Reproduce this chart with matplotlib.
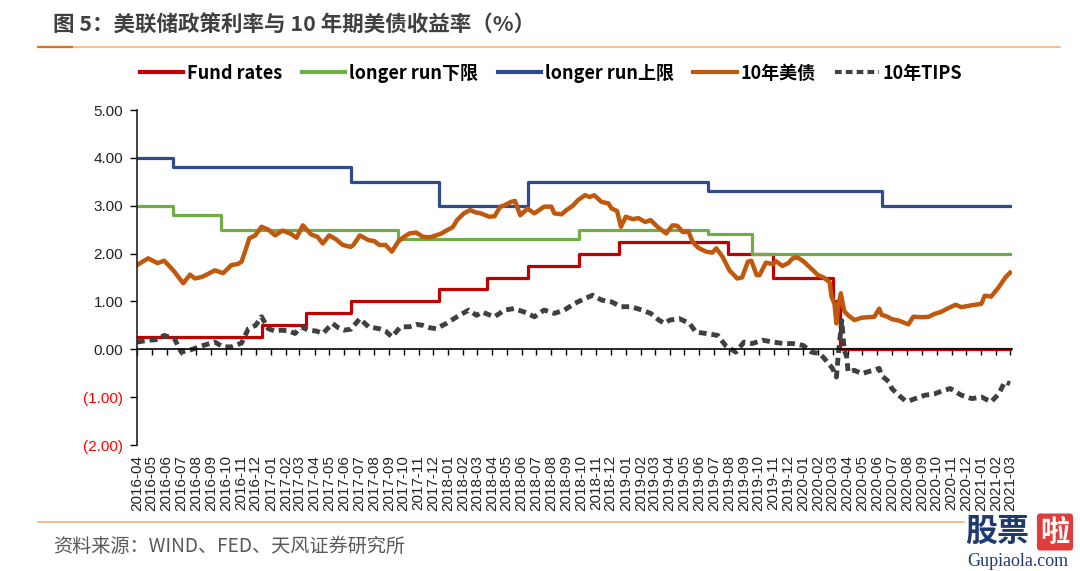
import pandas as pd
import matplotlib
matplotlib.use("Agg")
import matplotlib.pyplot as plt
import matplotlib.dates as mdates
from matplotlib.lines import Line2D

plt.rcParams['font.family'] = ['Liberation Sans', 'Noto Sans CJK SC']

# policy rate steps (change dates, level)
fund_dates = ["2016-04-01", "2016-12-14", "2017-03-15", "2017-06-14", "2017-12-13",
              "2018-03-21", "2018-06-13", "2018-09-26", "2018-12-19", "2019-07-31",
              "2019-10-30", "2020-03-03", "2020-03-16", "2021-03-01"]
fund_vals = [0.25, 0.50, 0.75, 1.00, 1.25, 1.50, 1.75, 2.00, 2.25, 2.00, 1.50, 1.00, 0.00, 0.00]

low_dates = ["2016-04-01", "2016-06-15", "2016-09-21", "2017-09-20", "2018-09-26",
             "2019-06-19", "2019-09-18", "2021-03-01"]
low_vals = [3.0, 2.8, 2.5, 2.3, 2.5, 2.4, 2.0, 2.0]

up_dates = ["2016-04-01", "2016-06-15", "2017-06-14", "2017-12-13", "2018-06-13",
            "2019-06-19", "2020-06-10", "2021-03-01"]
up_vals = [4.0, 3.8, 3.5, 3.0, 3.5, 3.3, 3.0, 3.0]

# 10y treasury yield
ust_dates = ["2016-04-01", "2016-04-24", "2016-05-13", "2016-05-27", "2016-06-10", "2016-06-17",
             "2016-06-28", "2016-07-05", "2016-07-19", "2016-07-29", "2016-08-12", "2016-08-26",
             "2016-09-08", "2016-09-25", "2016-10-12", "2016-10-25", "2016-11-02", "2016-11-09",
             "2016-11-18", "2016-11-30", "2016-12-13", "2016-12-27", "2017-01-10", "2017-01-25",
             "2017-02-10", "2017-02-23", "2017-03-08", "2017-03-25", "2017-04-07", "2017-04-18",
             "2017-05-01", "2017-05-15", "2017-05-29", "2017-06-14", "2017-06-20", "2017-07-03",
             "2017-07-21", "2017-08-02", "2017-08-12", "2017-08-25", "2017-09-07", "2017-09-20",
             "2017-09-29", "2017-10-13", "2017-10-27", "2017-11-10", "2017-11-24", "2017-12-07",
             "2017-12-18", "2017-12-28", "2018-01-10", "2018-01-19", "2018-02-02", "2018-02-15",
             "2018-02-26", "2018-03-09", "2018-03-26", "2018-04-06", "2018-04-18", "2018-04-25",
             "2018-05-10", "2018-05-18", "2018-05-29", "2018-06-13", "2018-06-27", "2018-07-17",
             "2018-08-01", "2018-08-07", "2018-08-22", "2018-09-01", "2018-09-14", "2018-09-25",
             "2018-10-09", "2018-10-19", "2018-10-28", "2018-11-12", "2018-11-26", "2018-12-03",
             "2018-12-14", "2018-12-22", "2019-01-01", "2019-01-15", "2019-01-27", "2019-02-10",
             "2019-02-21", "2019-03-07", "2019-03-25", "2019-04-07", "2019-04-17", "2019-04-28",
             "2019-05-10", "2019-05-18", "2019-05-30", "2019-06-15", "2019-06-28", "2019-07-06",
             "2019-07-19", "2019-08-02", "2019-08-18", "2019-08-28", "2019-09-09", "2019-09-16",
             "2019-09-27", "2019-10-03", "2019-10-16", "2019-10-30", "2019-11-06", "2019-11-19",
             "2019-12-01", "2019-12-10", "2019-12-20", "2020-01-01", "2020-01-21", "2020-01-31",
             "2020-02-12", "2020-02-24", "2020-02-28", "2020-03-05", "2020-03-09", "2020-03-12",
             "2020-03-18", "2020-03-25", "2020-04-02", "2020-04-15", "2020-04-30", "2020-05-12",
             "2020-05-26", "2020-06-05", "2020-06-10", "2020-06-22", "2020-07-01", "2020-07-15",
             "2020-08-04", "2020-08-14", "2020-09-01", "2020-09-15", "2020-09-27", "2020-10-10",
             "2020-10-25", "2020-11-09", "2020-11-21", "2020-12-12", "2020-12-25", "2021-01-01",
             "2021-01-08", "2021-01-21", "2021-02-06", "2021-02-20", "2021-02-27", "2021-03-01"]
ust_vals = [1.76, 1.90, 1.80, 1.85, 1.70, 1.62,
            1.47, 1.38, 1.56, 1.48, 1.51, 1.58,
            1.65, 1.59, 1.76, 1.78, 1.83, 2.04,
            2.32, 2.38, 2.56, 2.50, 2.38, 2.48,
            2.42, 2.33, 2.59, 2.40, 2.35, 2.21,
            2.38, 2.30, 2.18, 2.14, 2.18, 2.38,
            2.28, 2.26, 2.18, 2.18, 2.04, 2.25,
            2.33, 2.42, 2.44, 2.35, 2.34, 2.38,
            2.42, 2.48, 2.55, 2.70, 2.84, 2.91,
            2.86, 2.84, 2.77, 2.78, 2.98, 3.00,
            3.08, 3.10, 2.80, 2.94, 2.84, 2.98,
            2.98, 2.84, 2.82, 2.91, 3.00, 3.12,
            3.22, 3.18, 3.22, 3.08, 3.05, 2.94,
            2.89, 2.56, 2.77, 2.72, 2.74, 2.66,
            2.70, 2.56, 2.42, 2.59, 2.58, 2.45,
            2.46, 2.25, 2.12, 2.04, 2.02, 2.11,
            1.93, 1.65, 1.48, 1.50, 1.83, 1.85,
            1.55, 1.55, 1.81, 1.78, 1.84, 1.74,
            1.80, 1.90, 1.92, 1.84, 1.65, 1.55,
            1.50, 1.40, 1.10, 0.95, 0.54, 0.85,
            1.17, 0.80, 0.71, 0.61, 0.66, 0.67,
            0.68, 0.85, 0.72, 0.68, 0.63, 0.60,
            0.52, 0.68, 0.67, 0.68, 0.74, 0.78,
            0.86, 0.93, 0.88, 0.92, 0.94, 0.95,
            1.12, 1.10, 1.30, 1.51, 1.58, 1.60]

# 10y TIPS real yield
tips_dates = ["2016-04-01", "2016-04-24", "2016-05-10", "2016-05-27", "2016-06-17", "2016-07-01",
              "2016-07-21", "2016-08-15", "2016-09-08", "2016-09-25", "2016-10-12", "2016-11-02",
              "2016-11-16", "2016-12-01", "2016-12-13", "2016-12-27", "2017-01-10", "2017-01-24",
              "2017-02-08", "2017-02-20", "2017-03-04", "2017-03-20", "2017-04-05", "2017-04-18",
              "2017-05-08", "2017-05-20", "2017-06-01", "2017-06-15", "2017-07-03", "2017-07-21",
              "2017-08-12", "2017-08-25", "2017-09-07", "2017-09-25", "2017-10-13", "2017-10-28",
              "2017-11-10", "2017-11-24", "2017-12-07", "2017-12-28", "2018-01-19", "2018-02-12",
              "2018-02-28", "2018-03-12", "2018-03-26", "2018-04-06", "2018-04-27", "2018-05-16",
              "2018-06-06", "2018-06-27", "2018-07-17", "2018-08-07", "2018-08-28", "2018-09-18",
              "2018-10-09", "2018-10-25", "2018-11-12", "2018-12-03", "2018-12-22", "2019-01-12",
              "2019-02-03", "2019-02-21", "2019-03-10", "2019-03-22", "2019-04-01", "2019-04-21",
              "2019-05-12", "2019-05-25", "2019-06-15", "2019-07-09", "2019-07-25", "2019-08-15",
              "2019-09-01", "2019-09-18", "2019-10-09", "2019-11-01", "2019-11-21", "2019-12-10",
              "2020-01-01", "2020-01-18", "2020-02-04", "2020-02-13", "2020-02-22", "2020-03-01",
              "2020-03-09", "2020-03-13", "2020-03-18", "2020-03-20", "2020-03-25", "2020-03-30",
              "2020-04-02", "2020-04-15", "2020-04-30", "2020-05-13", "2020-06-05", "2020-06-10",
              "2020-06-25", "2020-07-01", "2020-07-14", "2020-07-28", "2020-08-05", "2020-08-18",
              "2020-09-07", "2020-09-27", "2020-10-15", "2020-10-29", "2020-11-21", "2020-12-12",
              "2021-01-02", "2021-01-21", "2021-02-06", "2021-02-18", "2021-03-01"]
tips_vals = [0.15, 0.19, 0.20, 0.29, 0.22, -0.06,
             -0.01, 0.08, 0.15, 0.05, 0.05, 0.13,
             0.43, 0.50, 0.68, 0.43, 0.38, 0.40,
             0.38, 0.33, 0.47, 0.40, 0.38, 0.33,
             0.54, 0.45, 0.40, 0.42, 0.64, 0.47,
             0.43, 0.38, 0.26, 0.47, 0.47, 0.52,
             0.50, 0.45, 0.43, 0.54, 0.68, 0.82,
             0.71, 0.78, 0.72, 0.68, 0.82, 0.85,
             0.78, 0.68, 0.82, 0.75, 0.82, 0.96,
             1.06, 1.13, 1.03, 0.99, 0.89, 0.89,
             0.82, 0.75, 0.61, 0.54, 0.61, 0.64,
             0.54, 0.36, 0.33, 0.29, 0.08, -0.06,
             0.15, 0.12, 0.19, 0.15, 0.12, 0.12,
             0.08, -0.06, -0.09, -0.19, -0.30, -0.40,
             -0.58, -0.09, 0.40, 0.60, -0.02, -0.15,
             -0.47, -0.44, -0.51, -0.47, -0.40, -0.55,
             -0.68, -0.82, -0.95, -1.07, -1.08, -1.03,
             -0.96, -0.93, -0.86, -0.82, -0.96, -1.03,
             -1.00, -1.10, -0.93, -0.68, -0.72]

labels = ["Fund rates", "longer run下限", "longer run上限", "10年美债", "10年TIPS"]
colors = ["#C00000", "#70AD47", "#2F4B8C", "#C0590E", "#404040"]

W, H = 1080, 571
fig = plt.figure(figsize=(W / 100, H / 100), dpi=100)
ax = fig.add_axes([137 / W, 1 - 445 / H, (1012 - 137) / W, (445 - 110) / H])

ax.plot(pd.to_datetime(fund_dates), fund_vals, drawstyle="steps-post", color=colors[0], lw=2.3)
ax.plot(pd.to_datetime(low_dates), low_vals, drawstyle="steps-post", color=colors[1], lw=2.3)
ax.plot(pd.to_datetime(up_dates), up_vals, drawstyle="steps-post", color=colors[2], lw=2.3)
ax.plot(pd.to_datetime(ust_dates), ust_vals, color=colors[3], lw=3.2, solid_joinstyle="round")
ax.plot(pd.to_datetime(tips_dates), tips_vals, color=colors[4], lw=3.5, dashes=(1.6, 1.0))

ax.set_xlim(pd.Timestamp("2016-04-01"), pd.Timestamp("2021-03-05"))
ax.set_ylim(-2, 5)

for s in ["top", "right"]:
    ax.spines[s].set_visible(False)
ax.spines["bottom"].set_position(("data", 0))
ax.spines["bottom"].set_linewidth(1.2)
ax.spines["left"].set_linewidth(1.2)
ax.spines["left"].set_color("#222222")

ax.xaxis.set_major_locator(mdates.MonthLocator())
ax.xaxis.set_major_formatter(mdates.DateFormatter("%Y-%m"))
ax.tick_params(axis="x", direction="out", length=4, width=1, pad=72,
               labelsize=11, labelrotation=90, labelcolor="#222222")

yt = [-2, -1, 0, 1, 2, 3, 4, 5]
ax.set_yticks(yt)
ax.set_yticklabels([f"{v:.2f}" if v >= 0 else f"({abs(v):.2f})" for v in yt])
ax.tick_params(axis="y", direction="out", length=5, width=1, pad=5, labelsize=11)
for lab, v in zip(ax.get_yticklabels(), yt):
    lab.set_color("#FF0000" if v < 0 else "#222222")

handles = [Line2D([], [], color=colors[i], lw=3) for i in range(4)]
handles.append(Line2D([], [], color=colors[4], lw=3, dashes=(1.6, 1.0)))
fig.legend(handles, labels, loc="center", bbox_to_anchor=(0.51, 1 - 73 / H), ncol=5,
           frameon=False, handlelength=2.4, handletextpad=0.2, columnspacing=1.1,
           prop={"family": ["Noto Sans CJK SC"], "weight": "bold", "size": 13})

fig.text(53 / W, 1 - 25 / H, "图 5：美联储政策利率与 10 年期美债收益率（%）",
         family=["Noto Sans CJK SC"], weight="bold", fontsize=15.5, color="#404040",
         va="center", ha="left")
fig.add_artist(Line2D([38 / W, 1060 / W], [1 - 47 / H, 1 - 47 / H], color="#F2B27A", lw=1.2))
fig.add_artist(Line2D([38 / W, 72 / W], [1 - 47 / H, 1 - 47 / H], color="#E0701E", lw=1.6))
fig.add_artist(Line2D([38 / W, 964 / W], [1 - 522 / H, 1 - 522 / H], color="#F2B27A", lw=1.2))
fig.text(53 / W, 1 - 546 / H, "资料来源：WIND、FED、天风证券研究所",
         family=["Noto Sans CJK SC"], fontsize=13.8, color="#595959", va="center", ha="left")

# watermark
fig.text(997 / W, 1 - 532 / H, "股票", family=["Noto Sans CJK SC"], weight="bold",
         fontsize=23, color="#1F3A6E", va="center", ha="center")
fig.text(1055 / W, 1 - 532 / H, "啦", family=["Noto Sans CJK SC"], weight="bold",
         fontsize=21, color="white", va="center", ha="center",
         bbox=dict(boxstyle="round,pad=0.12", fc="#E03C3C", ec="none"))
fig.text(1018 / W, 1 - 561 / H, "Gupiaola.com", family=["Liberation Serif"],
         fontsize=13, color="#1F3A6E", va="center", ha="center")

fig.savefig("out.png", dpi=100)
